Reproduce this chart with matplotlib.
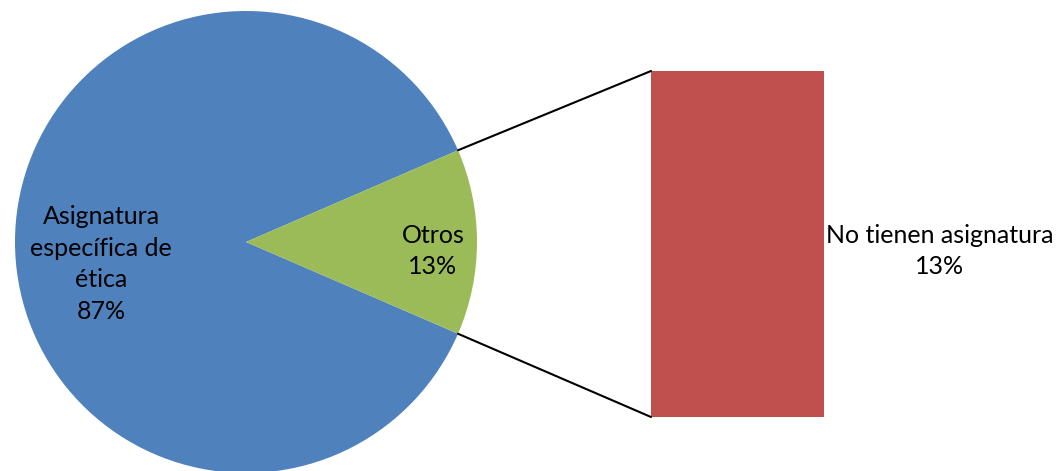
import matplotlib
matplotlib.use('Agg')
import matplotlib.pyplot as plt
from matplotlib.patches import ConnectionPatch
import numpy as np

# pie data
pieLabels = ['Asignatura\nespecífica de\nética', 'Otros']
pieValues = [87, 13]
pieColors = ['#4F81BD', '#9BBB59']

# bar data (breakdown of "Otros")
barLabels = ['No tienen asignatura']
barValues = [13]
barColors = ['#C0504D']

W, H = 1057, 471
fig = plt.figure(figsize=(W / 100, H / 100), dpi=100)
plt.rcParams['font.family'] = ['Lato', 'DejaVu Sans']
fsize = 18
lsp = 1.45

# pie axes in pixel units
ax = fig.add_axes([0, 0, 1, 1])
cx, cy, r = 246, 242, 231
otrosAngle = pieValues[1] / sum(pieValues) * 360
wedges, _ = ax.pie(pieValues, colors=pieColors, center=(cx, cy), radius=r,
                   startangle=otrosAngle / 2, counterclock=True, frame=True)
ax.set_xlim(0, W)
ax.set_ylim(H, 0)
ax.set_aspect('equal')
ax.axis('off')

total = sum(pieValues)
ax.text(101, 264, pieLabels[0] + '\n%d%%' % round(pieValues[0] / total * 100),
        ha='center', va='center', fontsize=fsize, linespacing=lsp)
ax.text(433, 251, pieLabels[1] + '\n%d%%' % round(pieValues[1] / total * 100),
        ha='center', va='center', fontsize=fsize, linespacing=lsp)

# bar axes
bx0, bx1, by0, by1 = 651, 824, 71, 417
bax = fig.add_axes([bx0 / W, (H - by1) / H, (bx1 - bx0) / W, (by1 - by0) / H])
bax.bar([0], barValues, width=1, color=barColors)
bax.set_xlim(-0.5, 0.5)
bax.set_ylim(0, sum(barValues))
bax.axis('off')

ax.text(940, 251, barLabels[0] + '\n%d%%' % round(barValues[0] / total * 100),
        ha='center', va='center', fontsize=fsize, linespacing=lsp)

# connector lines from wedge edges to bar corners
half = np.deg2rad(otrosAngle / 2)
for sgn, ybar in [(1, sum(barValues)), (-1, 0)]:
    px = cx + r * np.cos(half)
    py = cy - sgn * r * np.sin(half)
    con = ConnectionPatch(xyA=(px, py), coordsA=ax.transData,
                          xyB=(-0.5, ybar), coordsB=bax.transData,
                          color='black', linewidth=1.5)
    fig.add_artist(con)

fig.savefig('out.png', dpi=100)
